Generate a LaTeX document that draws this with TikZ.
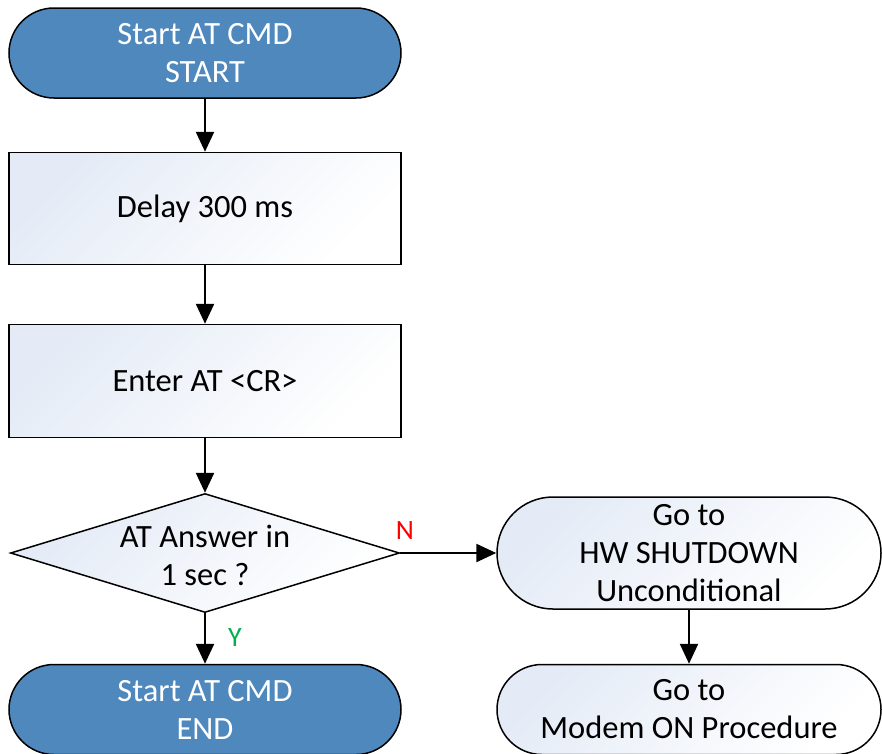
\documentclass[tikz,border=0pt]{standalone}
\usepackage{fontspec}
\setmainfont{Carlito}
\usetikzlibrary{shapes.misc,shapes.geometric,arrows.meta}
\definecolor{termblue}{HTML}{4E88BD}
\definecolor{lightbox}{HTML}{E4EBF6}
\definecolor{ygreen}{HTML}{00B050}
\begin{document}
\begin{tikzpicture}[x=1pt,y=-1pt,
  every node/.style={font=\fontsize{32.5}{38}\selectfont, align=center},
  term/.style={rounded rectangle, draw=black, line width=1.5pt, fill=termblue, text=white,
    minimum height=90pt, minimum width=392pt, inner sep=0pt},
  lterm/.style={rounded rectangle, draw=black, line width=1.5pt, top color=lightbox, bottom color=white,
    shading angle=45, minimum width=384pt, inner sep=0pt},
  proc/.style={rectangle, draw=black, line width=1.5pt, top color=lightbox, bottom color=white,
    shading angle=45, minimum width=392pt, minimum height=112pt, inner sep=0pt},
  decbox/.style={diamond, draw=black, line width=1.5pt, top color=lightbox, bottom color=white,
    shading angle=45, minimum width=389pt, minimum height=119pt, inner sep=0pt},
  arr/.style={line width=2.4pt, -{Triangle[length=20pt,width=18pt]}},
  lab/.style={font=\fontsize{28}{32}\selectfont}
]
\useasboundingbox (0,0) rectangle (882,753);
\node[term] (start) at (205,53) {Start AT CMD\\START};
\node[proc] (delay) at (205,208.5) {Delay 300 ms};
\node[proc, minimum height=113pt] (enter) at (205,381) {Enter AT <CR>};
\node[decbox] (dec) at (205,553) {};
\node (dect) at (205,555) {AT Answer in\\1 sec ?};
\node[term] (endn) at (205,709.5) {Start AT CMD\\END};
\node[lterm, minimum height=112pt] (hw) at (689,553) {Go to\\HW SHUTDOWN\\Unconditional};
\node[lterm, minimum height=90pt] (modem) at (689,709.5) {Go to\\Modem ON Procedure};
\draw[arr] (start.south) -- (delay.north);
\draw[arr] (delay.south) -- (enter.north);
\draw[arr] (enter.south) -- (dec.north);
\draw[arr] (dec.south) -- (endn.north);
\draw[arr] (dec.east) -- (hw.west);
\draw[arr] (hw.south) -- (modem.north);
\node[lab, text=red] (nlab) at (405,531) {N};
\node[lab, text=ygreen] (ylab) at (235,638) {Y};
\end{tikzpicture}
\end{document}
